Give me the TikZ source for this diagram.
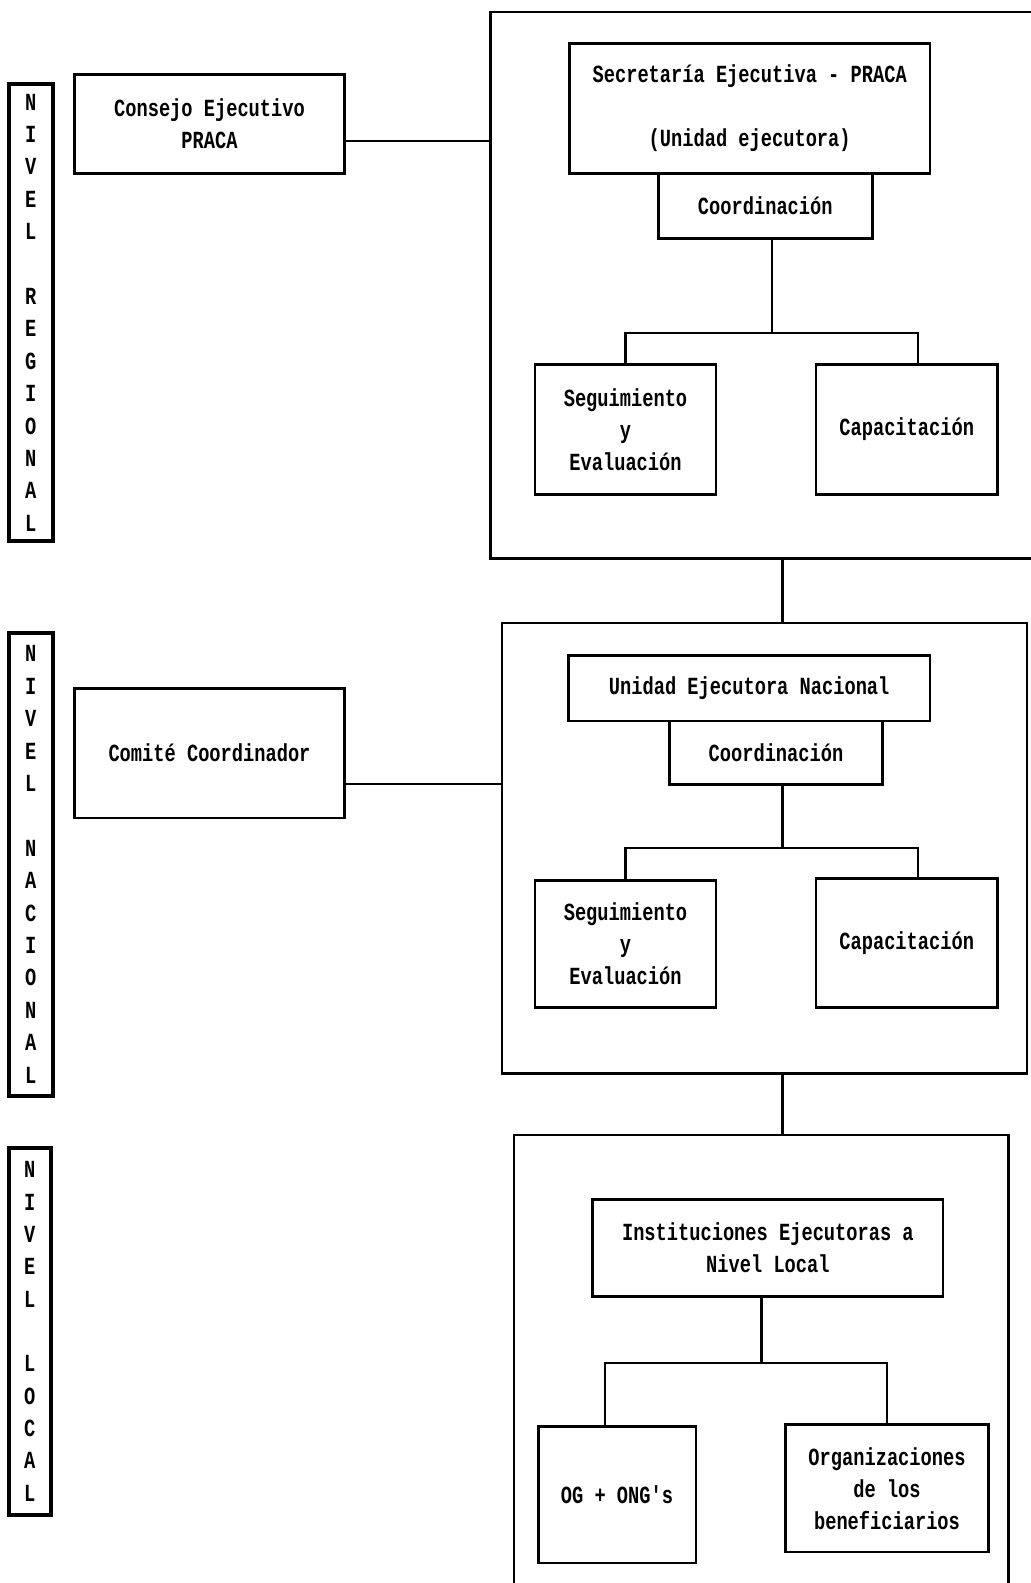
\documentclass[tikz,border=0pt]{standalone}
\usepackage{fontspec}
\newfontfamily\orgfont[FakeStretch=0.76]{Liberation Mono}

\tikzset{
  orgbox/.style={draw, line width=1.3pt, inner sep=2pt, align=center, font=\orgfont\bfseries\fontsize{12.3}{16}\selectfont},
  levelbox/.style={draw, line width=2pt, inner sep=0pt, align=center, font=\orgfont\bfseries\fontsize{12.3}{16.2}\selectfont},
  frame/.style={draw, line width=1.3pt, inner sep=0pt},
  link/.style={line width=1.2pt}
}

\begin{document}
\begin{tikzpicture}[x=0.5pt, y=-0.5pt]
\useasboundingbox (0,0) rectangle (1031,1583);

% nivel regional
\node[levelbox, minimum width=21.7pt, minimum height=228.7pt] (lblR) at (30.8,312.5) {N\\I\\V\\E\\L\\[16.2pt]R\\E\\G\\I\\O\\N\\A\\L};
\node[orgbox, minimum width=134.8pt, minimum height=49.5pt] (consejo) at (209.5,124.2) {Consejo Ejecutivo\\PRACA};
\node[frame, minimum width=277.2pt, minimum height=273.2pt] (bigR) at (767.9,285.3) {};
\node[orgbox, minimum width=180.3pt, minimum height=65.2pt] (secr) at (749.7,108.5) {Secretaría Ejecutiva - PRACA\\[16pt](Unidad ejecutora)};
\node[orgbox, minimum width=107pt, minimum height=32.3pt] (coordR) at (765.3,206) {Coordinación};
\node[orgbox, minimum width=90.4pt, minimum height=65.1pt] (segR) at (625.5,429.6) {Seguimiento\\y\\Evaluación};
\node[orgbox, minimum width=90.9pt, minimum height=65.1pt] (capR) at (906.7,429.6) {Capacitación};
\coordinate (forkR) at (772,333);

\draw[link] ([yshift=-8.5pt]consejo.east) -- ([yshift=-8.5pt]consejo.east -| bigR.west);
\draw[link] (forkR |- coordR.south) -- (forkR);
\draw[link] (segR.north) |- (forkR) -| ([xshift=5.5pt]capR.north);

% nivel nacional
\node[levelbox, minimum width=21.7pt, minimum height=231.2pt] (lblN) at (30.8,864.3) {N\\I\\V\\E\\L\\[16.2pt]N\\A\\C\\I\\O\\N\\A\\L};
\node[orgbox, minimum width=134.8pt, minimum height=64.7pt] (comite) at (209.5,753.2) {Comité Coordinador};
\node[frame, minimum width=262.6pt, minimum height=225.2pt] (bigN) at (764.4,848.2) {};
\node[orgbox, minimum width=180.8pt, minimum height=32.8pt] (unidad) at (749.2,688.1) {Unidad Ejecutora Nacional};
\node[orgbox, minimum width=106.5pt, minimum height=31.8pt] (coordN) at (776,752.7) {Coordinación};
\node[orgbox, minimum width=90.4pt, minimum height=63.7pt] (segN) at (625.5,944) {Seguimiento\\y\\Evaluación};
\node[orgbox, minimum width=90.9pt, minimum height=64.6pt] (capN) at (906.7,943) {Capacitación};
\coordinate (forkN) at (782.5,848);

\draw[link] ([yshift=-15.5pt]comite.east) -- ([yshift=-15.5pt]comite.east -| bigN.west);
\draw[link] (forkN |- bigR.south) -- (forkN |- bigN.north);
\draw[link] (forkN |- coordN.south) -- (forkN);
\draw[link] (segN.north) |- (forkN) -| ([xshift=5.5pt]capN.north);

% nivel local
\node[levelbox, minimum width=20.7pt, minimum height=183.3pt] (lblL) at (29.8,1331.3) {N\\I\\V\\E\\L\\[16pt]L\\O\\C\\A\\L};
\node[frame, minimum width=247.4pt, minimum height=232.5pt] (bigL) at (761.3,1367.5) {};
\node[orgbox, minimum width=175.2pt, minimum height=48.5pt] (inst) at (767.9,1248) {Instituciones Ejecutoras a\\Nivel Local};
\node[orgbox, minimum width=78.8pt, minimum height=68.2pt] (og) at (617,1494.8) {OG + ONG's};
\node[orgbox, minimum width=101.5pt, minimum height=63.6pt] (orgben) at (887,1488.2) {Organizaciones\\de los\\beneficiarios};
\coordinate (forkL) at (761.3,1363);

\draw[link] (forkN |- bigN.south) -- (forkN |- bigL.north);
\draw[link] (forkL |- inst.south) -- (forkL);
\draw[link] ([xshift=-6pt]og.north) |- (forkL) -| (orgben.north);
\end{tikzpicture}
\end{document}
